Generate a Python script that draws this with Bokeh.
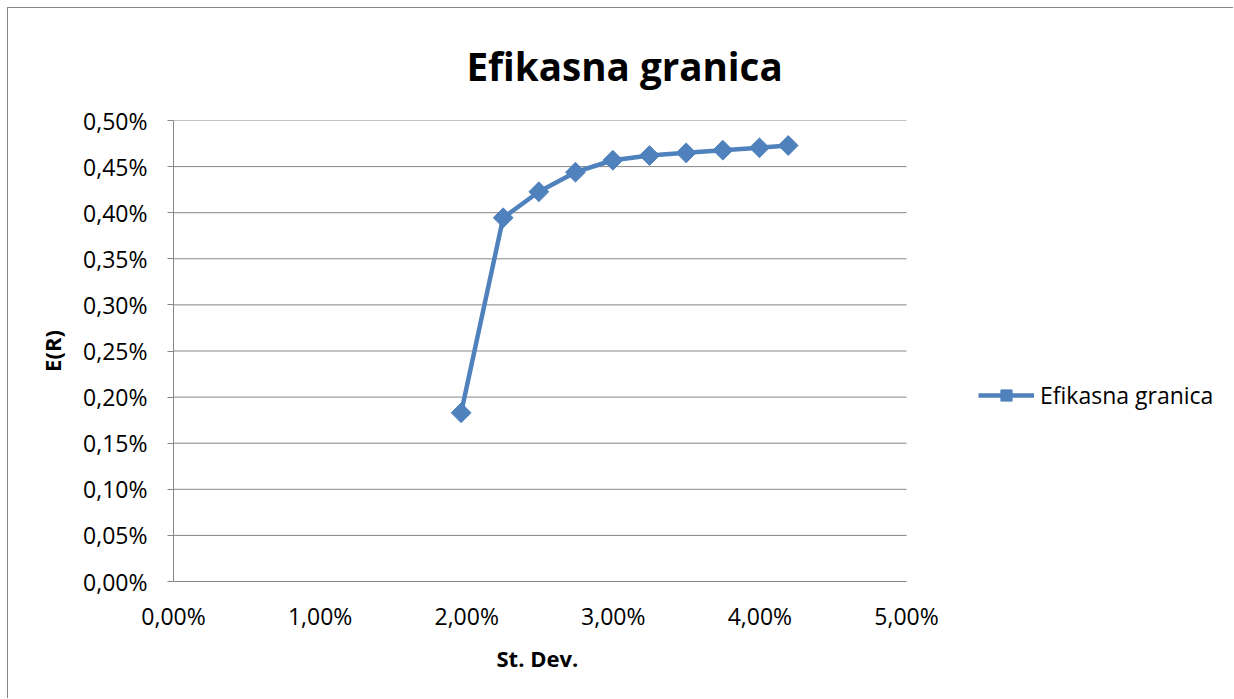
import math
from bokeh.plotting import figure
from bokeh.models import (ColumnDataSource, FixedTicker, CustomJSTickFormatter,
                          Legend, LegendItem, Range1d, Title)
from bokeh.embed import file_html
from bokeh.resources import INLINE

# ---- data (fractions) ----
st_dev = [0.01962, 0.02249, 0.02492, 0.02742, 0.02997, 0.03247, 0.03497, 0.03747, 0.03997, 0.04193]
exp_ret = [0.00183, 0.003945, 0.004227, 0.004439, 0.004569, 0.004620, 0.004649, 0.004678, 0.004704, 0.004729]
x_ticks = [0.0, 0.01, 0.02, 0.03, 0.04, 0.05]
y_ticks = [0.0, 0.0005, 0.001, 0.0015, 0.002, 0.0025, 0.003, 0.0035, 0.004, 0.0045, 0.005]
title_text = "Efikasna granica"
series_name = "Efikasna granica"
x_label = "St. Dev."
y_label = "E(R)"

FONT = "Open Sans"
BLUE = "#4F81BD"
GRAY = "#868686"

# layout constants (pixels)
FIG_W, FIG_H = 1226, 691
B_LEFT, B_TOP, B_BOTTOM = 165, 112, 118
PLOT_W = 733  # visible plot-area width, spanning x_ticks[0]..x_ticks[-1]
x_span = x_ticks[-1] - x_ticks[0]
x_end = x_ticks[0] + x_span * (FIG_W - B_LEFT) / PLOT_W

src = ColumnDataSource(data=dict(x=st_dev, y=exp_ret))
grid_src = ColumnDataSource(data=dict(x0=[x_ticks[0]] * len(y_ticks),
                                      x1=[x_ticks[-1]] * len(y_ticks),
                                      y=y_ticks))

p = figure(width=FIG_W, height=FIG_H, output_backend="svg", toolbar_location=None,
           x_range=Range1d(x_ticks[0], x_end), y_range=Range1d(y_ticks[0], y_ticks[-1]),
           min_border_left=B_LEFT, min_border_right=0, min_border_top=B_TOP,
           min_border_bottom=B_BOTTOM)
p.styles = {"border-top": "1px solid " + GRAY, "border-left": "1px solid " + GRAY,
            "margin-left": "7px", "margin-top": "7px"}
p.outline_line_color = None
p.background_fill_color = "white"
p.border_fill_color = "white"

p.title.text = title_text
p.title.align = "left"
p.title.offset = 293
p.title.standoff = 57
p.title.text_font = FONT
p.title.text_font_style = "bold"
p.title.text_font_size = "38.6px"
p.title.text_color = "black"

fmt = CustomJSTickFormatter(code="return (tick*100).toFixed(2).replace('.', ',') + '%';")

p.xaxis.ticker = FixedTicker(ticks=x_ticks)
p.yaxis.ticker = FixedTicker(ticks=y_ticks)
p.xaxis.formatter = fmt
p.yaxis.formatter = fmt
p.xaxis.bounds = (x_ticks[0], x_ticks[-1])

for ax in (p.xaxis[0], p.yaxis[0]):
    ax.axis_line_color = GRAY
    ax.axis_line_width = 1
    ax.major_tick_line_color = GRAY
    ax.minor_tick_line_color = None
    ax.major_label_text_font = FONT
    ax.major_label_text_font_size = "23px"
    ax.major_label_text_color = "black"
    ax.axis_label_text_font = FONT
    ax.axis_label_text_font_style = "bold"
    ax.axis_label_text_font_size = "22px"
    ax.axis_label_text_color = "black"

p.xaxis.major_tick_out = 0
p.xaxis.major_tick_in = 0
p.xaxis.major_label_standoff = 18

p.yaxis.major_tick_out = 6
p.yaxis.major_tick_in = 0
p.yaxis.major_label_standoff = 20
p.yaxis.axis_label = y_label
p.yaxis.axis_label_standoff = 13

xlab = Title(text=x_label, align="left", offset=323, standoff=12, text_font=FONT,
             text_font_style="bold", text_font_size="22px", text_color="black")
p.add_layout(xlab, "below")

p.xgrid.grid_line_color = None
p.ygrid.grid_line_color = None
p.segment(x0="x0", y0="y", x1="x1", y1="y", source=grid_src, line_color=GRAY, line_width=1)

ln = p.line("x", "y", source=src, line_color=BLUE, line_width=4.5)
mk = p.scatter("x", "y", source=src, marker="square", size=14, angle=math.pi / 4,
               fill_color=BLUE, line_color=BLUE)

legend = Legend(items=[LegendItem(label=series_name, renderers=[ln, mk])],
                location=(805, 170), border_line_color=None, background_fill_alpha=0,
                padding=0, margin=0, spacing=0, glyph_width=56, glyph_height=28,
                label_standoff=6, label_text_font=FONT, label_text_font_size="23px",
                label_text_color="black")
p.add_layout(legend)

open("out.html", "w").write(file_html(p, INLINE))
